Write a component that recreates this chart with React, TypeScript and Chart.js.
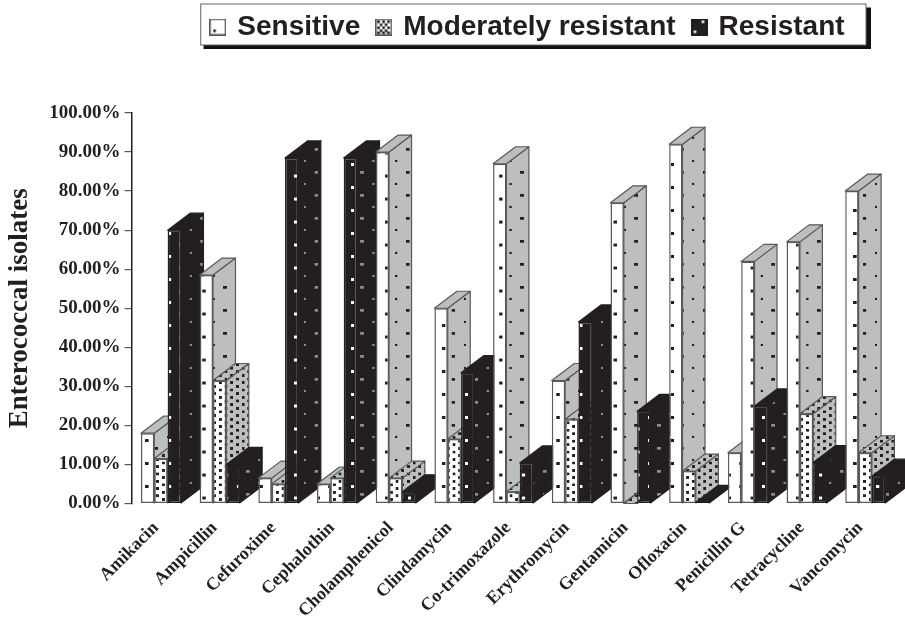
import React, { useEffect, useRef } from "react";
import { Chart, registerables } from "chart.js";

Chart.register(...registerables);

const categories = ["Amikacin", "Ampicillin", "Cefuroxime", "Cephalothin", "Cholamphenicol", "Clindamycin", "Co-trimoxazole", "Erythromycin", "Gentamicin", "Ofloxacin", "Penicillin G", "Tetracycline", "Vancomycin"];
const sensitive = [18, 58.5, 6.5, 5, 90, 50, 87, 31.5, 77, 92, 13, 67, 80];
const moderate = [11.5, 31.5, 5, 6.5, 6.5, 16.5, 3, 21.6, 0, 8.3, 62, 23, 13];
const resistant = [70, 10, 88.5, 88.5, 3, 33.5, 10.4, 46.5, 23.6, 0.3, 25, 10.5, 7];
const legendLabels = ["Sensitive", "Moderately resistant", "Resistant"];
const yTitle = "Enterococcal isolates";

const INK = "#231f20";
const GREY = "#bcbec0";
const EDGE = "#58595b";
const DEPTH_X = 22.5;
const DEPTH_Y = 17;
const LATTICE_W = 22.84;
const LATTICE_H = 23;

type Dot = { x: number; y: number; w: number; h: number; c: string };

function tile(w: number, h: number, bg: string, dots: Dot[]) {
  const k = 4;
  const cv = document.createElement("canvas");
  cv.width = Math.round(w * k);
  cv.height = Math.round(h * k);
  const c = cv.getContext("2d")!;
  const sx = cv.width / w;
  const sy = cv.height / h;
  c.fillStyle = bg;
  c.fillRect(0, 0, cv.width, cv.height);
  for (const d of dots) {
    c.fillStyle = d.c;
    const mx = ((d.x % w) + w) % w;
    const my = ((d.y % h) + h) % h;
    for (const ox of [-w, 0, w]) {
      for (const oy of [-h, 0, h]) {
        c.fillRect((mx + ox - d.w / 2) * sx, (my + oy - d.h / 2) * sy, d.w * sx, d.h * sy);
      }
    }
  }
  const p = c.createPattern(cv, "repeat")!;
  p.setTransform(new DOMMatrix([1 / sx, 0, 0, 1 / sy, 0, 0]));
  return p;
}

function frontLattice(bg: string, dot: string) {
  return tile(LATTICE_W, LATTICE_H, bg, [
    { x: 204, y: 291, w: 3.2, h: 3, c: dot },
    { x: 204 + LATTICE_W / 2, y: 291 + LATTICE_H / 2, w: 3.2, h: 3, c: dot },
  ]);
}

function sideLattice(bg: string, dot: string) {
  return tile(LATTICE_W, LATTICE_H, bg, [
    { x: 225, y: 287.3, w: 3.6, h: 2.6, c: dot },
    { x: 225 + LATTICE_W / 2, y: 287.3 + LATTICE_H / 2, w: 2.2, h: 2.2, c: dot },
  ]);
}

function denseLattice(bg: string, dot: string) {
  const w = 11.4;
  const h = 7.3;
  return tile(w, h, bg, [
    { x: 220.3, y: 382.7, w: 2.8, h: 2.8, c: dot },
    { x: 220.3 + w / 2, y: 382.7 + h / 2, w: 2.8, h: 2.8, c: dot },
  ]);
}

function swatch(bg: string, edge: string, dots: [number, number][], dot: string) {
  const cv = document.createElement("canvas");
  cv.width = 17;
  cv.height = 17;
  const c = cv.getContext("2d")!;
  c.fillStyle = bg;
  c.fillRect(0, 0, 17, 17);
  c.fillStyle = dot;
  for (const [x, y] of dots) c.fillRect(x, y, 2.6, 2.6);
  c.strokeStyle = edge;
  c.lineWidth = 1.5;
  c.strokeRect(0.75, 0.75, 15.5, 15.5);
  return cv;
}

export default function App() {
  const ref = useRef<HTMLCanvasElement>(null);
  useEffect(() => {
    const faces = {
      white: { front: frontLattice("#ffffff", INK), side: sideLattice(GREY, INK), top: GREY as any, edge: EDGE },
      dense: { front: denseLattice("#ffffff", INK), side: denseLattice(GREY, INK), top: denseLattice(GREY, INK) as any, edge: EDGE },
      black: { front: frontLattice(INK, "#ffffff"), side: sideLattice(INK, "#8a8c8e"), top: INK as any, edge: INK },
    };
    const pointFaces = (name: "white" | "dense" | "black") => categories.map((c) => {
      if (name === "dense" && c === "Penicillin G") return faces.white;
      return faces[name];
    });
    const faceSets = [pointFaces("white"), pointFaces("dense"), pointFaces("black")];

    const swatches = [
      swatch("#ffffff", EDGE, [[4, 11]], INK),
      swatch("#ffffff", EDGE, [[2, 2], [7, 2], [12, 2], [4.5, 5], [9.5, 5], [2, 8], [7, 8], [12, 8], [4.5, 11], [9.5, 11], [2, 13], [7, 13], [12, 13]], INK),
      swatch(INK, INK, [[3, 12], [11, 2]], "#ffffff"),
    ];

    const bars3d = {
      id: "bars3d",
      afterLayout(chart: any) {
        const lg = chart.legend;
        if (lg) {
          lg.left = 194.3;
          lg.right = 880;
          lg.top = -5;
        }
      },
      beforeDraw(chart: any) {
        const c = chart.ctx;
        c.save();
        c.fillStyle = "#111111";
        c.fillRect(203.5, 7.5, 667.5, 41.5);
        c.fillStyle = "#ffffff";
        c.fillRect(200.7, 4, 665.3, 41);
        c.strokeStyle = "#666666";
        c.lineWidth = 1;
        c.strokeRect(200.7, 4, 665.3, 41);
        c.restore();
      },
      beforeDatasetsDraw(chart: any) {
        const c = chart.ctx;
        const metas = chart.data.datasets.map((_: any, i: number) => chart.getDatasetMeta(i));
        categories.forEach((_, idx) => {
          metas.forEach((meta: any, d: number) => {
            const el = meta.data[idx];
            const f = faceSets[d][idx];
            const l = el.x - el.width / 2;
            const r = el.x + el.width / 2;
            const t = el.y;
            const b = el.base;
            c.save();
            c.lineWidth = 1.2;
            c.strokeStyle = f.edge;
            c.lineJoin = "round";
            c.beginPath();
            c.moveTo(r, t);
            c.lineTo(r + DEPTH_X, t - DEPTH_Y);
            c.lineTo(r + DEPTH_X, b - DEPTH_Y);
            c.lineTo(r, b);
            c.closePath();
            c.fillStyle = f.side;
            c.fill();
            c.stroke();
            c.beginPath();
            c.moveTo(l, t);
            c.lineTo(l + DEPTH_X, t - DEPTH_Y);
            c.lineTo(r + DEPTH_X, t - DEPTH_Y);
            c.lineTo(r, t);
            c.closePath();
            c.fillStyle = f.top;
            c.fill();
            c.stroke();
            c.restore();
            el.draw(c);
          });
        });
        return false;
      },
    };

    const chart = new Chart(ref.current!, {
      type: "bar",
      data: {
        labels: categories,
        datasets: [sensitive, moderate, resistant].map((data, d) => ({
          label: legendLabels[d],
          data,
          backgroundColor: faceSets[d].map((f) => f.front),
          borderColor: faceSets[d].map((f) => f.edge),
          borderWidth: 1.5,
          borderSkipped: false,
          inflateAmount: 0,
          barPercentage: 1,
          categoryPercentage: 40 / 58.7,
        })),
      },
      plugins: [bars3d as any],
      options: {
        responsive: false,
        animation: false,
        layout: { padding: { top: 57, right: 10.4, left: 0, bottom: 0 } },
        plugins: {
          tooltip: { enabled: false },
          legend: {
            position: "top",
            align: "start",
            labels: {
              usePointStyle: true,
              boxWidth: 11,
              padding: 18,
              color: INK,
              font: { family: "'Liberation Sans'", weight: "bold", size: 28, lineHeight: 1 },
              generateLabels: () => legendLabels.map((text, i) => ({
                text,
                datasetIndex: i,
                hidden: false,
                pointStyle: swatches[i],
                fontColor: INK,
              })) as any,
            },
          },
        },
        scales: {
          x: {
            grid: { display: false },
            border: { display: false },
            afterFit: (s: any) => { s.height = 119.5; },
            ticks: {
              autoSkip: false,
              minRotation: 45,
              maxRotation: 45,
              padding: 6,
              labelOffset: -5,
              color: INK,
              font: { family: "'Liberation Serif'", weight: "bold", size: 18 },
            },
          },
          y: {
            min: 0,
            max: 100,
            afterFit: (s: any) => { s.width = 131.6; },
            grid: { drawOnChartArea: false, drawTicks: true, tickLength: 7, color: EDGE, lineWidth: 1.2 },
            border: { display: true, color: INK, width: 1.5 },
            ticks: {
              stepSize: 10,
              padding: 4,
              color: INK,
              font: { family: "'Liberation Serif'", weight: "bold", size: 19 },
              callback: (v: any) => Number(v).toFixed(2) + "%",
            },
            title: {
              display: true,
              text: yTitle,
              color: INK,
              padding: { top: 4, bottom: 0 },
              font: { family: "'Liberation Serif'", weight: "bold", size: 27 },
            },
          },
        },
      },
    } as any);
    return () => chart.destroy();
  }, []);
  return (
    <div style={{ position: "absolute", left: 0, top: 0, width: 905, height: 623, background: "#fff" }}>
      <canvas ref={ref} width={905} height={623} style={{ display: "block" }} />
    </div>
  );
}
